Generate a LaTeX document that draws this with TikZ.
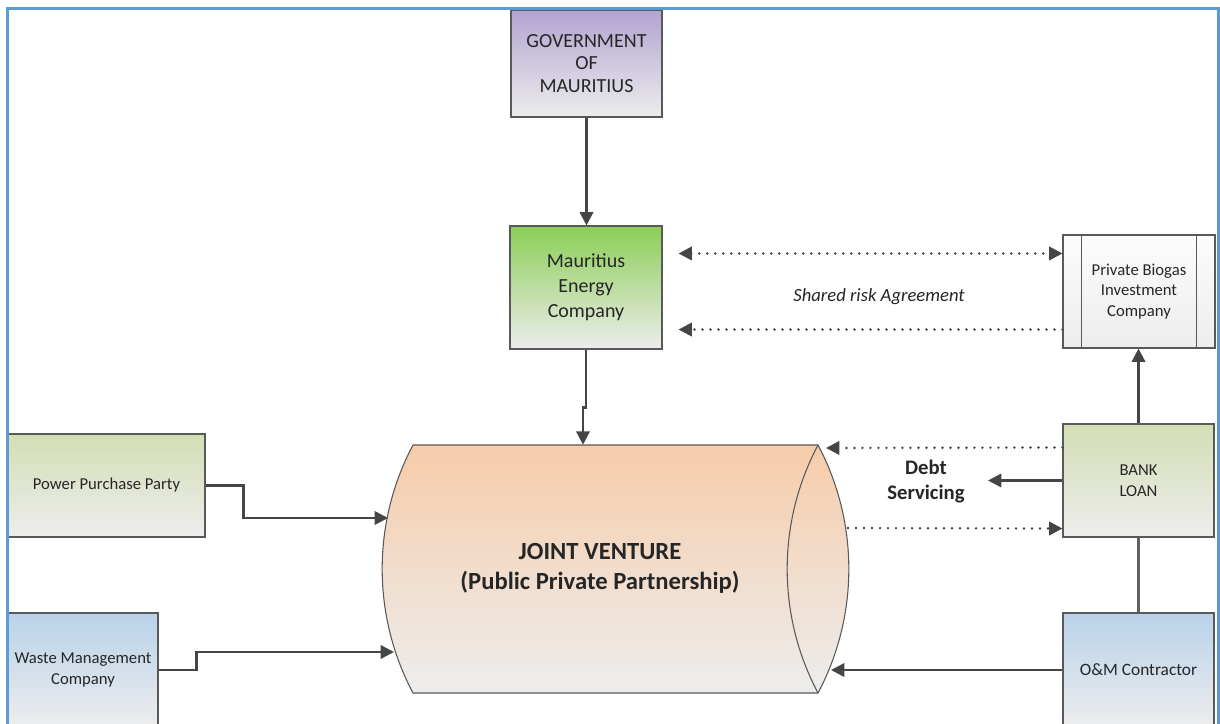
\documentclass[tikz,border=0pt]{standalone}
\usepackage{fontspec}
\setmainfont{Carlito}
\usetikzlibrary{arrows.meta,calc}

\definecolor{frameblue}{HTML}{5B9BD5}
\definecolor{edge}{HTML}{595959}
\definecolor{ink}{HTML}{262626}
\definecolor{wire}{HTML}{454545}
\definecolor{govtop}{HTML}{B2A3D0}
\definecolor{mectop}{HTML}{8BCE55}
\definecolor{olivetop}{HTML}{D3DEB4}
\definecolor{bluetop}{HTML}{B9D2EA}
\definecolor{peachtop}{HTML}{F6CCAA}
\definecolor{whitetop}{HTML}{FCFCFC}
\definecolor{fade}{HTML}{EDEDED}

\tikzset{
  box/.style={draw=edge, line width=0.8pt, inner sep=0pt, align=center,
    text=ink, bottom color=fade},
  smalltext/.style={font=\fontsize{12.5pt}{15.5pt}\selectfont},
  bigtext/.style={font=\fontsize{15pt}{17pt}\selectfont},
  tipshape/.style={-{Triangle[length=10pt,width=10pt]}},
  arr/.style={draw=wire, line width=1.8pt, tipshape},
  plainline/.style={draw=wire!85, line width=1.6pt},
  dots/.style={draw=wire, line width=2pt, line cap=round,
    dash pattern=on 0pt off 6pt},
  twotips/.style={{Triangle[length=10pt,width=10pt]}-{Triangle[length=10pt,width=10pt]}},
}

\begin{document}
\begin{tikzpicture}[x=0.75pt,y=-0.75pt]
  \useasboundingbox (0,0) rectangle (1220,724);
  \clip (0,0) rectangle (1220,724);
  \fill[white] (0,0) rectangle (1220,724);

  % --- boxes ---
  \node[box, bigtext, top color=govtop, bottom color=fade,
        minimum width=113.25pt, minimum height=80.25pt]
        (gov) at (586.5,63.5) {GOVERNMENT\\OF\\MAURITIUS};
  \node[box, font=\fontsize{15pt}{18.75pt}\selectfont, top color=mectop, bottom color=fade,
        minimum width=114pt, minimum height=92.25pt]
        (mec) at (586,287.5) {Mauritius\\Energy\\Company};
  \node[box, smalltext, top color=whitetop, bottom color=fade,
        minimum width=114pt, minimum height=84.75pt]
        (pbic) at (1139,291.5) {Private Biogas\\Investment\\Company};
  \draw[edge, line width=0.8pt]
        ($(pbic.north west)+(19,0)$) -- ($(pbic.south west)+(19,0)$)
        ($(pbic.north east)+(-19,0)$) -- ($(pbic.south east)+(-19,0)$);
  \node[box, smalltext, top color=olivetop, bottom color=fade,
        minimum width=113.25pt, minimum height=84.75pt]
        (bank) at (1138.5,480.5) {BANK\\LOAN};
  \node[box, font=\fontsize{13pt}{15.5pt}\selectfont, top color=bluetop, bottom color=fade,
        minimum width=113.25pt, minimum height=85.5pt]
        (om) at (1138.5,670) {O\&M Contractor};
  \node[box, smalltext, top color=olivetop, bottom color=fade,
        minimum width=147.75pt, minimum height=77.25pt]
        (ppp) at (106.5,485.5) {Power Purchase Party};
  \node[box, smalltext, top color=bluetop, bottom color=fade,
        minimum width=112.5pt, minimum height=85.5pt]
        (wmc) at (83,670) {Waste Management\\Company};

  % --- joint venture drum: straight top and bottom, circular-arc ends ---
  \path[draw=edge, line width=0.8pt, top color=peachtop, bottom color=fade]
    (413,445) -- (818,445)
    .. controls (859.1,522.4) and (859.1,615.6) .. (818,693)
    -- (413,693)
    .. controls (371.9,615.6) and (371.9,522.4) .. (413,445)
    -- cycle;
  \draw[edge, line width=0.8pt]
    (818,445) .. controls (776.9,522.4) and (776.9,615.6) .. (818,693);
  \node[inner sep=0pt, minimum width=303.75pt, minimum height=186pt]
        (jv) at (615.5,569) {};
  \node[font=\bfseries\fontsize{18.5pt}{22.5pt}\selectfont, align=center, text=ink]
        (jvtext) at (600,568) {JOINT VENTURE\\(Public Private Partnership)};

  % points on the drum outline where connectors meet it
  \coordinate (jvL1) at (388,518);
  \coordinate (jvL2) at (394,652);
  \coordinate (jvR1) at (826,448);
  \coordinate (jvR2) at (848,528);
  \coordinate (jvR3) at (831,670);
  \coordinate (debtend) at (988,480.5);

  % --- connectors ---
  \draw[arr] (gov.south) -- (gov.south |- mec.north);
  \draw[arr] (mec.south) -- ++(0,58) -| ($(mec.south |- jv.north)+(-3,0)$);
  \draw[arr] (ppp.east) -- ++(38,0) |- (jvL1);
  \draw[arr] (wmc.east) -- ++(38,0) |- (jvL2);
  \draw[arr] (om.west) -- (jvR3);
  \draw[plainline] (om.north) -- (bank.south);
  \draw[arr] (bank.north) -- (bank.north |- pbic.south);
  \draw[dots, tipshape] ($(bank.north west)+(0,24)$) -- (jvR1);
  \draw[arr] (bank.west) -- (debtend);
  \draw[dots, tipshape] (jvR2) -- ($(bank.south west)+(0,-9)$);
  \draw[dots, twotips] ($(mec.north east)+(16,28)$) -- ($(pbic.north west)+(0,19)$);
  \draw[dots, tipshape] ($(pbic.south west)+(0,-19)$) -- ($(mec.south east)+(16,-20)$);

  % --- labels ---
  \node[font=\bfseries\fontsize{15.5pt}{18.75pt}\selectfont, align=center, text=ink]
        (debt) at (926,481) {Debt\\Servicing};
  \node[font=\itshape\fontsize{14pt}{16pt}\selectfont, text=ink]
        (shared) at (879,297) {Shared risk Agreement};

  % --- frame ---
  \draw[frameblue, line width=2.25pt] (7,730) -- (7,9) -- (1218,9) -- (1218,730);
\end{tikzpicture}
\end{document}
